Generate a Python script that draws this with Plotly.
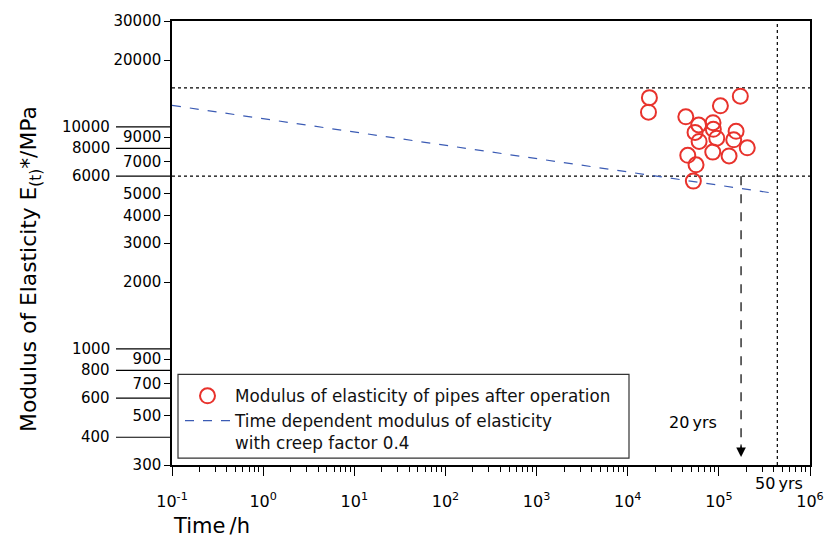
import numpy as np
import plotly.graph_objects as go

# ---------------- data ----------------
time_h = [17300, 16900, 172000, 104000, 43400, 60100, 86300, 54800, 87000, 154500,
          94800, 60700, 145600, 205000, 45600, 85700, 129400, 56200, 52500]
modulus_mpa = [13550, 11650, 13750, 12450, 11100, 10200, 10450, 9450, 9750, 9550,
               8900, 8600, 8750, 8050, 7450, 7700, 7400, 6750, 5700]

creep_time_h = [0.1, 438000]
creep_modulus_mpa = [12500, 5000]

limit_modulus_mpa = [15000, 6000]
service_years = [20, 50]
HOURS_PER_YEAR = 8760

x_tick_exponents = [-1, 0, 1, 2, 3, 4, 5, 6]
y_near_ticks = [300, 500, 700, 900, 2000, 3000, 4000, 5000, 7000, 9000, 20000, 30000]
y_far_ticks = [400, 600, 800, 1000, 6000, 8000, 10000]

# ---------------- layout constants ----------------
W, H = 838, 538
ML, MR, MT, MB = 172, 28, 19, 73
PW, PH = W - ML - MR, H - MT - MB
X_MIN, X_MAX = 0.1, 1e6
Y_MIN, Y_MAX = 300, 30000
FONT = "DejaVu Sans, Liberation Sans, Arial, sans-serif"
RED = "#e8322c"
BLUE = "#3b5bb4"
TICK_SIZE = 15


def px_x(p):
    return (p - ML) / PW


def px_y(p):
    return (H - MB - p) / PH


t20, t50 = [y * HOURS_PER_YEAR for y in service_years]
arrow_tip_mpa = Y_MIN * 10 ** (8 / PH * 2)

fig = go.Figure()

# horizontal dotted limit lines
for lim in limit_modulus_mpa:
    fig.add_trace(go.Scatter(x=[X_MIN, X_MAX], y=[lim, lim], mode="lines",
                             line=dict(color="black", width=1.2, dash="dot"),
                             showlegend=False, hoverinfo="skip"))
# vertical 50 yrs dotted line
fig.add_trace(go.Scatter(x=[t50, t50], y=[Y_MIN, Y_MAX], mode="lines",
                         line=dict(color="black", width=1.2, dash="dot"),
                         showlegend=False, hoverinfo="skip"))
# 20 yrs dashed arrow line
fig.add_trace(go.Scatter(x=[t20, t20], y=[limit_modulus_mpa[1], arrow_tip_mpa * 1.06], mode="lines",
                         line=dict(color="black", width=1.2, dash="dash"),
                         showlegend=False, hoverinfo="skip"))

fig.add_trace(go.Scatter(x=time_h, y=modulus_mpa, mode="markers",
                         name="Modulus of elasticity of pipes after operation",
                         marker=dict(symbol="circle-open", size=15, color=RED,
                                     line=dict(color=RED, width=2))))
fig.add_trace(go.Scatter(x=creep_time_h, y=creep_modulus_mpa, mode="lines",
                         name="Time dependent modulus of elasticity<br>with creep factor 0.4",
                         line=dict(color=BLUE, width=1.2, dash="dash")))

shapes = []
annotations = []
# leader lines for offset y labels
for v in y_far_ticks:
    shapes.append(dict(type="line", xref="paper", yref="y", x0=px_x(116), x1=0,
                       y0=v, y1=v, line=dict(color="black", width=1.2)))
    annotations.append(dict(xref="paper", yref="y", x=px_x(112), y=np.log10(v),
                            text=str(v), showarrow=False, xanchor="right", yanchor="middle",
                            font=dict(family=FONT, size=TICK_SIZE, color="black")))
# legend frame
shapes.append(dict(type="rect", xref="paper", yref="paper",
                   x0=px_x(178), x1=px_x(629), y0=px_y(458), y1=px_y(374),
                   line=dict(color="#333", width=1.2)))

# arrow head for 20 yrs
annotations.append(dict(xref="x", yref="y", x=np.log10(t20), y=np.log10(arrow_tip_mpa),
                        ax=0, ay=-14, showarrow=True, arrowhead=2, arrowsize=1.6,
                        arrowwidth=1.2, arrowcolor="black", text=""))
annotations.append(dict(xref="paper", yref="paper", x=px_x(693), y=px_y(422),
                        xanchor="center", yanchor="middle",
                        text=f"{service_years[0]}\u2009yrs", showarrow=False,
                        font=dict(family=FONT, size=16, color="black")))
annotations.append(dict(xref="paper", yref="paper", x=px_x(779), y=px_y(484),
                        xanchor="center", yanchor="middle",
                        text=f"{service_years[1]}\u2009yrs", showarrow=False,
                        font=dict(family=FONT, size=16, color="black")))
# axis titles
annotations.append(dict(xref="paper", yref="paper", x=px_x(31), y=px_y(268),
                        xanchor="center", yanchor="middle",
                        text="Modulus of Elasticity E<sub>(t)</sub>*/MPa", textangle=-90,
                        showarrow=False, font=dict(family=FONT, size=21.8, color="black")))
annotations.append(dict(xref="paper", yref="paper", x=px_x(171), y=px_y(526),
                        text="Time\u2009/h", showarrow=False, xanchor="left", yanchor="middle",
                        font=dict(family=FONT, size=21, color="black")))

minor_vals = [k * 10.0 ** d for d in range(-1, 6) for k in range(2, 10)]

fig.update_layout(
    width=W, height=H,
    margin=dict(l=ML, r=MR, t=MT, b=MB, pad=0),
    paper_bgcolor="white", plot_bgcolor="white",
    font=dict(family=FONT, size=16, color="black"),
    shapes=shapes, annotations=annotations,
    legend=dict(x=px_x(180), y=px_y(378), xanchor="left", yanchor="top",
                bgcolor="rgba(0,0,0,0)", borderwidth=0, itemwidth=45, valign="top",
                font=dict(family=FONT, size=16.8, color="#111")),
    xaxis=dict(type="log", range=[np.log10(X_MIN), np.log10(X_MAX)],
               tickmode="array", tickvals=[10.0 ** e for e in x_tick_exponents],
               ticktext=[f"10<sup>{e}</sup>" for e in x_tick_exponents],
               ticks="outside", ticklen=9, tickwidth=1.2, tickcolor="black",
               ticklabelstandoff=12,
               minor=dict(tickmode="array", tickvals=minor_vals, ticks="outside",
                          ticklen=5, tickwidth=1, tickcolor="black", showgrid=False),
               showline=True, linecolor="black", linewidth=1.5, mirror=True,
               showgrid=False, zeroline=False,
               tickfont=dict(family=FONT, size=TICK_SIZE + 1, color="black")),
    yaxis=dict(type="log", range=[np.log10(Y_MIN), np.log10(Y_MAX)],
               tickmode="array", tickvals=y_near_ticks, ticktext=[str(v) for v in y_near_ticks],
               ticks="outside", ticklen=6, tickwidth=1.2, tickcolor="black",
               showline=True, linecolor="black", linewidth=1.5, mirror=True,
               showgrid=False, zeroline=False,
               tickfont=dict(family=FONT, size=TICK_SIZE, color="black")),
)

fig.write_html("out.html", config={"displayModeBar": False},
               post_script="document.body.style.margin='0';")
